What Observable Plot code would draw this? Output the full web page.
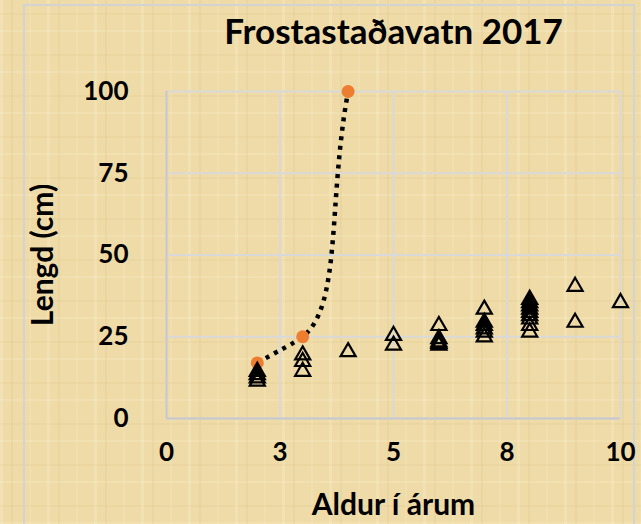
<!DOCTYPE html>
<html><head><meta charset="utf-8">
<script src="https://cdn.jsdelivr.net/npm/d3@7"></script>
<script src="https://cdn.jsdelivr.net/npm/@observablehq/plot@0.6"></script>
<style>
html,body{margin:0;padding:0;}
body{width:641px;height:524px;overflow:hidden;position:relative;
background-color:#EFDBA7;
background-image:
 repeating-linear-gradient(90deg, rgba(255,248,225,0.20) 0 3px, rgba(0,0,0,0) 3px 11px, rgba(170,140,70,0.07) 11px 13px, rgba(0,0,0,0) 13px 29px, rgba(255,248,225,0.12) 29px 31px, rgba(0,0,0,0) 31px 47px),
 repeating-linear-gradient(0deg, rgba(255,248,225,0.16) 0 2px, rgba(0,0,0,0) 2px 17px, rgba(170,140,70,0.06) 17px 19px, rgba(0,0,0,0) 19px 41px);
}
#frame{position:absolute;left:23px;top:4px;width:612px;height:560px;border:2px solid #D2D4D3;box-sizing:border-box;pointer-events:none}
#chart{position:absolute;left:0;top:0}
</style></head><body>
<div id="frame"></div><div id="chart"></div>
<script>
const title = "Frostastaðavatn 2017";
const xLabel = "Aldur í árum";
const yLabel = "Lengd (cm)";
const xTicks = [0, 2.5, 5, 7.5, 10];
const yTicks = [0, 25, 50, 75, 100];
const fishAge    = [2, 2, 2, 2, 3, 3, 3, 4, 5, 5, 6, 6, 6, 6, 6, 7, 7, 7, 7, 7, 7, 8, 8, 8, 8, 8, 8, 8, 8, 8, 9, 9, 10];
const fishLength = [15, 14, 13, 12, 20, 18, 15, 21, 26, 23, 29, 25, 24, 23.5, 23, 34, 30, 29, 28, 27, 25.5, 37, 36, 35, 34, 33, 32, 31, 29, 27, 41, 30, 36];
const curveAge    = [2, 3, 4];
const curveLength = [17, 25, 100];

const fish = fishAge.map((a, i) => ({age: a, length: fishLength[i]}));
const curve = curveAge.map((a, i) => ({age: a, length: curveLength[i]}));
const font = "Lato, 'Open Sans', sans-serif";

// Spreadsheet-style smoothed line: cubic Bézier segments whose tangents
// favour the shorter neighbouring chord (computed in screen space).
function smoothCurve(context) {
  let pts;
  return {
    areaStart() {}, areaEnd() {},
    lineStart() { pts = []; },
    point(x, y) { pts.push([+x, +y]); },
    lineEnd() {
      const n = pts.length;
      if (!n) return;
      context.moveTo(pts[0][0], pts[0][1]);
      if (n === 1) return;
      const d = [], u = [];
      for (let i = 0; i < n - 1; i++) {
        const dx = pts[i + 1][0] - pts[i][0], dy = pts[i + 1][1] - pts[i][1];
        const L = Math.hypot(dx, dy) || 1;
        d.push(L); u.push([dx / L, dy / L]);
      }
      const T = pts.map((p, i) => {
        if (i === 0) return {t: u[0], a: 0.45};
        if (i === n - 1) return {t: u[n - 2], a: 0.45};
        const tx = u[i - 1][0] / d[i - 1] + u[i][0] / d[i];
        const ty = u[i - 1][1] / d[i - 1] + u[i][1] / d[i];
        const L = Math.hypot(tx, ty) || 1;
        return {t: [tx / L, ty / L], a: 0.2};
      });
      for (let i = 0; i < n - 1; i++) {
        const L = d[i];
        context.bezierCurveTo(
          pts[i][0] + T[i].t[0] * L * T[i].a, pts[i][1] + T[i].t[1] * L * T[i].a,
          pts[i + 1][0] - T[i + 1].t[0] * L * T[i + 1].a, pts[i + 1][1] - T[i + 1].t[1] * L * T[i + 1].a,
          pts[i + 1][0], pts[i + 1][1]);
      }
    }
  };
}

const chart = Plot.plot({
  width: 641, height: 524,
  marginLeft: 166, marginRight: 21, marginTop: 91, marginBottom: 106,
  style: {background: "transparent", fontFamily: font, fontWeight: "bold", color: "#000", overflow: "visible"},
  x: {domain: [0, 10]},
  y: {domain: [0, 100]},
  marks: [
    Plot.gridX(xTicks, {stroke: "#D9D9D9", strokeOpacity: 1, strokeWidth: 2}),
    Plot.gridY(yTicks, {stroke: "#D9D9D9", strokeOpacity: 1, strokeWidth: 2}),
    Plot.ruleX([0], {stroke: "#C8C8C8", strokeWidth: 2}),
    Plot.ruleY([0], {stroke: "#C8C8C8", strokeWidth: 2}),
    Plot.axisX(xTicks, {tickSize: 0, tickPadding: 24, fontSize: 26, fontWeight: "bold", tickFormat: d => String(Math.round(d)), label: null}),
    Plot.axisY(yTicks, {tickSize: 0, tickPadding: 38, fontSize: 26, fontWeight: "bold", label: null}),
    Plot.line(curve, {x: "age", y: "length", curve: smoothCurve, stroke: "black", strokeWidth: 4.5, strokeDasharray: "4,5.5", strokeLinecap: "butt"}),
    Plot.dot(curve, {x: "age", y: "length", r: 6.5, fill: "#ED7D31", stroke: "none"}),
    Plot.dot(fish, {x: "age", y: "length", symbol: "triangle", r: 5.6, stroke: "black", strokeWidth: 2.2, fill: "none", dy: 2}),
    Plot.text([title], {frameAnchor: "top", lineAnchor: "middle", dy: -59, fontSize: 35, fontWeight: "bold", fill: "black"}),
    Plot.text([xLabel], {frameAnchor: "bottom", lineAnchor: "middle", dy: 87, fontSize: 30, fontWeight: "bold", fill: "black"}),
    Plot.text([yLabel], {frameAnchor: "left", textAnchor: "middle", lineAnchor: "middle", dx: -123, rotate: -90, fontSize: 30, fontWeight: "bold", fill: "black"})
  ]
});
document.getElementById("chart").appendChild(chart);
</script>
</body></html>
